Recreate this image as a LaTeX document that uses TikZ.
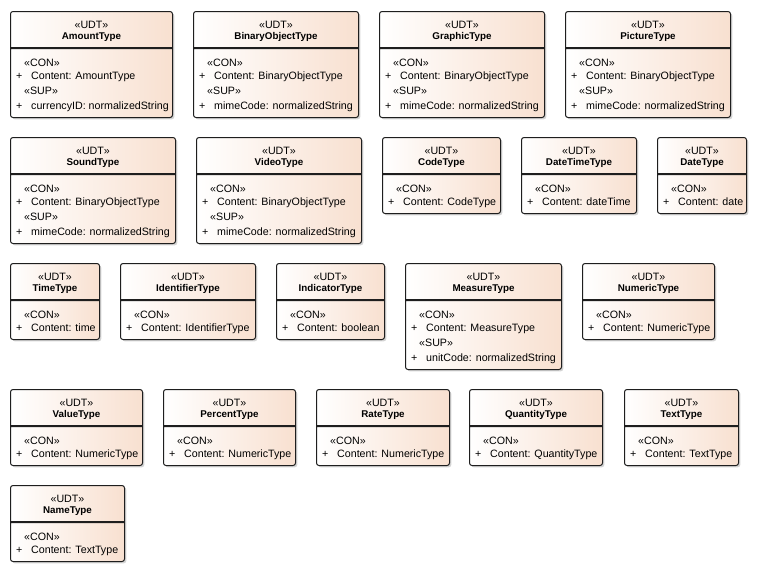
\documentclass[tikz,border=0pt]{standalone}
\usepackage{fontspec}
\setmainfont{Liberation Sans}
\usetikzlibrary{shadows,shapes.multipart}
\definecolor{peach}{RGB}{248,224,208}
\definecolor{boxline}{RGB}{30,30,30}
\tikzset{
  x=1pt,y=-1pt,
  umlbox/.style={draw=boxline, line width=1pt, rounded corners=2.5pt,
    rectangle split, rectangle split parts=2,
    left color=white, right color=peach, inner sep=0pt, outer sep=0pt,
    drop shadow={shadow xshift=1.8pt, shadow yshift=-1.8pt, fill=black!30, opacity=0.55}},
  sepbar/.style={fill=boxline, inner sep=0pt, outer sep=0pt, minimum height=1pt, anchor=north west},
  stereo/.style={inner sep=0pt, anchor=base, font=\fontsize{10.67}{12}\selectfont},
  title/.style={inner sep=0pt, anchor=base, font=\fontsize{9.8}{12}\selectfont\bfseries},
  attr/.style={inner sep=0pt, anchor=base west, font=\fontsize{10.67}{12}\selectfont}
}
% #1 name, #2 x1, #3 y1, #4 x2, #5 y2 (pixel columns/rows of the edges), #6 title
\newcommand\udthead[6]{%
  \node[umlbox, anchor=north west] (#1) at (#2+0.5,#3+0.5)
    {\rule{\numexpr#4-#2\relax pt}{0pt}\rule{0pt}{36pt}\nodepart{two}\rule{\numexpr#4-#2\relax pt}{0pt}\rule{0pt}{\numexpr#5-#3-36\relax pt}};
  \node[sepbar, minimum width={(#4)-(#2)+1}] (#1sep) at (#2,#3+36) {};
  \node[stereo] (#1st) at ({(#2+#4+1)/2},#3+17) {«UDT»};
  \node[title] (#1ti) at ({(#2+#4+1)/2},#3+28.8) {#6};
}
% #1 name, #2 x1, #3 y1, #4 content
\newcommand\udtcon[4]{%
  \node[attr] (#1con) at (#2+14,#3+36.7+19) {«CON»};
  \node[attr] (#1pa) at (#2+6,#3+36.7+31.5) {+};
  \node[attr] (#1aa) at (#2+21,#3+36.7+31.5) {#4};
}
\newcommand\udtsup[4]{%
  \node[attr] (#1sup) at (#2+14,#3+36.7+47) {«SUP»};
  \node[attr] (#1pb) at (#2+6,#3+36.7+61.5) {+};
  \node[attr] (#1ab) at (#2+21,#3+36.7+61.5) {#4};
}
\begin{document}
\begin{tikzpicture}
\useasboundingbox[fill=white] (0,0) rectangle (757,570);
% Row 1
\udthead{amount}{10}{11}{172}{115}{AmountType}
\udtcon{amount}{10}{11}{Content: AmountType}
\udtsup{amount}{10}{11}{currencyID: normalizedString}
\udthead{binary}{193}{11}{358}{115}{BinaryObjectType}
\udtcon{binary}{193}{11}{Content: BinaryObjectType}
\udtsup{binary}{193}{11}{mimeCode: normalizedString}
\udthead{graphic}{379}{11}{544}{115}{GraphicType}
\udtcon{graphic}{379}{11}{Content: BinaryObjectType}
\udtsup{graphic}{379}{11}{mimeCode: normalizedString}
\udthead{picture}{565}{11}{730}{115}{PictureType}
\udtcon{picture}{565}{11}{Content: BinaryObjectType}
\udtsup{picture}{565}{11}{mimeCode: normalizedString}
% Row 2
\udthead{sound}{10}{137}{175}{241}{SoundType}
\udtcon{sound}{10}{137}{Content: BinaryObjectType}
\udtsup{sound}{10}{137}{mimeCode: normalizedString}
\udthead{video}{196}{137}{361}{241}{VideoType}
\udtcon{video}{196}{137}{Content: BinaryObjectType}
\udtsup{video}{196}{137}{mimeCode: normalizedString}
\udthead{code}{382}{137}{500}{211}{CodeType}
\udtcon{code}{382}{137}{Content: CodeType}
\udthead{datetime}{521}{137}{636}{211}{DateTimeType}
\udtcon{datetime}{521}{137}{Content: dateTime}
\udthead{date}{657}{137}{746}{211}{DateType}
\udtcon{date}{657}{137}{Content: date}
% Row 3
\udthead{time}{10}{263}{99}{337}{TimeType}
\udtcon{time}{10}{263}{Content: time}
\udthead{identifier}{120}{263}{255}{337}{IdentifierType}
\udtcon{identifier}{120}{263}{Content: IdentifierType}
\udthead{indicator}{276}{263}{384}{337}{IndicatorType}
\udtcon{indicator}{276}{263}{Content: boolean}
\udthead{measure}{405}{263}{561}{367}{MeasureType}
\udtcon{measure}{405}{263}{Content: MeasureType}
\udtsup{measure}{405}{263}{unitCode: normalizedString}
\udthead{numeric}{582}{263}{714}{337}{NumericType}
\udtcon{numeric}{582}{263}{Content: NumericType}
% Row 4
\udthead{value}{10}{389}{142}{463}{ValueType}
\udtcon{value}{10}{389}{Content: NumericType}
\udthead{percent}{163}{389}{295}{463}{PercentType}
\udtcon{percent}{163}{389}{Content: NumericType}
\udthead{rate}{316}{389}{449}{463}{RateType}
\udtcon{rate}{316}{389}{Content: NumericType}
\udthead{quantity}{469}{389}{602}{463}{QuantityType}
\udtcon{quantity}{469}{389}{Content: QuantityType}
\udthead{text}{624}{389}{738}{463}{TextType}
\udtcon{text}{624}{389}{Content: TextType}
% Row 5
\udthead{name}{10}{485}{124}{559}{NameType}
\udtcon{name}{10}{485}{Content: TextType}
\end{tikzpicture}
\end{document}
